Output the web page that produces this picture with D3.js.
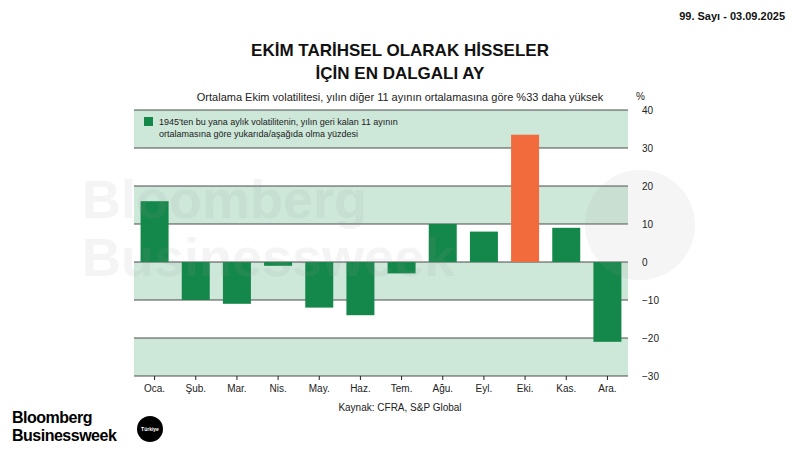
<!DOCTYPE html>
<html><head><meta charset="utf-8">
<script src="https://cdn.jsdelivr.net/npm/d3@7"></script>
<style>body{margin:0;background:#fff}svg{font-family:"Liberation Sans",Arial,sans-serif}</style>
</head><body><svg id="c" width="800" height="450"></svg>
<script>
const months = ["Oca.","Şub.","Mar.","Nis.","May.","Haz.","Tem.","Ağu.","Eyl.","Eki.","Kas.","Ara."];
const values = [16,-10,-11,-1,-12,-14,-3,10,8,33.5,9,-21];
const yTicks = [40,30,20,10,0,-10,-20,-30];
const bands = [[30,40],[10,20],[-10,0],[-30,-20]];

const svg = d3.select("#c");
const x = d3.scaleBand().domain(months).range([134,628]).paddingInner(0.32).paddingOuter(0.16);
const y = d3.scaleLinear().domain([-30,40]).range([376,110]);

svg.selectAll(".band").data(bands).join("rect")
  .attr("x",134).attr("width",494)
  .attr("y",d=>y(d[1])).attr("height",d=>y(d[0])-y(d[1]))
  .attr("fill","#cde7d9");

svg.selectAll(".grid").data(yTicks).join("line")
  .attr("x1",134).attr("x2",628).attr("y1",d=>y(d)).attr("y2",d=>y(d))
  .attr("stroke","#222").attr("stroke-width",0.8);

svg.selectAll(".bar").data(values).join("rect")
  .attr("x",(d,i)=>x(months[i])).attr("width",x.bandwidth())
  .attr("y",d=>y(Math.max(0,d))).attr("height",d=>Math.abs(y(d)-y(0)))
  .attr("fill",(d,i)=>i===9?"#f26b3d":"#14884a");

// watermark (faint, on top)
const wm = svg.append("g").attr("fill","#999").attr("opacity",0.1).attr("font-weight","bold").attr("font-size",54);
wm.append("text").attr("x",82).attr("y",218).text("Bloomberg");
wm.append("text").attr("x",82).attr("y",276).text("Businessweek");
wm.append("circle").attr("cx",640).attr("cy",225).attr("r",55);

const ya = svg.append("g").attr("transform","translate(628,0)")
  .call(d3.axisRight(y).tickValues(yTicks).tickSize(0).tickPadding(14));
ya.select(".domain").remove();
ya.selectAll("text").attr("font-size",10).attr("fill","#222");
svg.append("text").attr("x",636).attr("y",100).attr("font-size",10).attr("fill","#222").text("%");

const xa = svg.append("g").attr("transform","translate(0,376)")
  .call(d3.axisBottom(x).tickSize(4).tickPadding(5));
xa.select(".domain").remove();
xa.selectAll("line").attr("stroke","#222");
xa.selectAll("text").attr("font-size",10).attr("fill","#222");

svg.append("text").attr("x",400).attr("y",411).attr("text-anchor","middle").attr("font-size",10).attr("fill","#222").text("Kaynak: CFRA, S&P Global");

// legend
svg.append("rect").attr("x",144).attr("y",117).attr("width",9).attr("height",9).attr("fill","#14884a");
svg.append("text").attr("x",159).attr("y",125).attr("font-size",9).attr("fill","#222").text("1945'ten bu yana aylık volatilitenin, yılın geri kalan 11 ayının");
svg.append("text").attr("x",159).attr("y",137).attr("font-size",9).attr("fill","#222").text("ortalamasına göre yukarıda/aşağıda olma yüzdesi");

// titles
svg.append("text").attr("x",400).attr("y",56).attr("text-anchor","middle").attr("font-size",17).attr("font-weight","bold").attr("fill","#111").text("EKİM TARİHSEL OLARAK HİSSELER");
svg.append("text").attr("x",400).attr("y",79).attr("text-anchor","middle").attr("font-size",17).attr("font-weight","bold").attr("fill","#111").text("İÇİN EN DALGALI AY");
svg.append("text").attr("x",400).attr("y",101).attr("text-anchor","middle").attr("font-size",11).attr("fill","#222").text("Ortalama Ekim volatilitesi, yılın diğer 11 ayının ortalamasına göre %33 daha yüksek");
svg.append("text").attr("x",785).attr("y",20).attr("text-anchor","end").attr("font-size",11).attr("font-weight","bold").attr("fill","#111").text("99. Sayı - 03.09.2025");

// logo
svg.append("text").attr("x",12).attr("y",423).attr("font-size",16).attr("font-weight","bold").attr("fill","#000").attr("letter-spacing",-0.5).text("Bloomberg");
svg.append("text").attr("x",12).attr("y",441).attr("font-size",16).attr("font-weight","bold").attr("fill","#000").attr("letter-spacing",-0.5).text("Businessweek");
svg.append("circle").attr("cx",150).attr("cy",429).attr("r",13).attr("fill","#000");
svg.append("text").attr("x",150).attr("y",431).attr("text-anchor","middle").attr("font-size",5).attr("font-weight","bold").attr("fill","#fff").text("Türkiye");
</script></body></html>
